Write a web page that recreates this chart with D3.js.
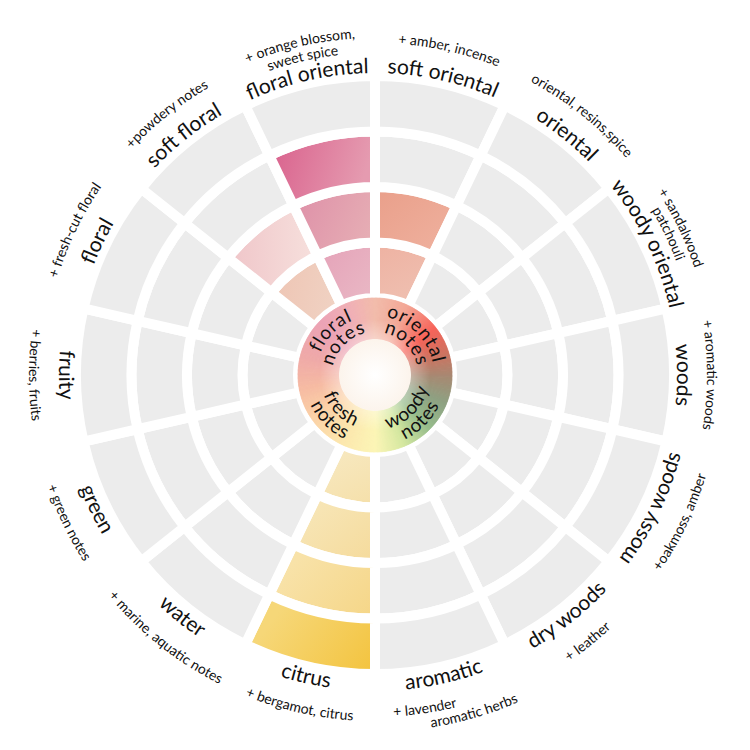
<!DOCTYPE html>
<html>
<head>
<meta charset="utf-8">
<script src="https://cdn.jsdelivr.net/npm/d3@7"></script>
<style>
  body { margin: 0; background: #fff; }
  text { font-family: Lato, "Open Sans", sans-serif; fill: #111; }
</style>
</head>
<body>
<div id="wheel"></div>
<script>
// fragrance families, clockwise from 12 o'clock
var categories = ["soft oriental", "oriental", "woody oriental", "woods", "mossy woods", "dry woods",
  "aromatic", "citrus", "water", "green", "fruity", "floral", "soft floral", "floral oriental"];

var subLabels = [["+ amber, incense"], ["oriental, resins,spice"], ["+ sandalwood", "patchouli"],
  ["+ aromatic woods"], ["+oakmoss, amber"], ["+ leather"], ["+ lavender", "aromatic herbs"],
  ["+ bergamot, citrus"], ["+ marine, aquatic notes"], ["+ green notes"], ["+ berries, fruits"],
  ["+ fresh-cut floral"], ["+powdery notes"], ["+ orange blossom,", "sweet spice"]];

// how many rings are filled for each family
var strength = [2, 0, 0, 0, 0, 0, 0, 4, 0, 0, 0, 0, 2, 3];

// inner "notes" ring
var noteFamilies = ["floral", "oriental", "woody", "fresh"];
var noteAngles = [315, 45, 135, 225];
var noteWord = "notes";

var ringCount = 4;

// colours of the filled cells, [outer, inner] per ring
var cellColors = {
  "soft oriental": [["#eeb1a1", "#efbfb0"], ["#e99e89", "#eeae9b"]],
  "citrus": [["#f5dfa8", "#f7e8bf"], ["#f5da9a", "#f7e5b5"], ["#f5d585", "#f8e2a8"], ["#f3c23a", "#f6d778"]],
  "soft floral": [["#eec5b4", "#f0d2c3"], ["#efc4c8", "#f6dedb"]],
  "floral oriental": [["#e5a3b9", "#e9b7c4"], ["#de90a8", "#e6adb4"], ["#d9608c", "#e59bb0"]]
};

var noteStops = [0, 25, 52, 72, 92, 112, 135, 158, 180, 205, 235, 260, 285, 315, 340, 360];
var noteColors = ["#f2bcab", "#f3a796", "#f7645a", "#cf7260", "#a68a73", "#8ea182", "#97bd8c", "#d5e8a0",
  "#fcf5b6", "#fce8ae", "#fbd2a7", "#f6bba3", "#efa9a8", "#eca3b6", "#f0b0b6", "#f2bcab"];

// small nudges along the arc for some second-line labels
var lineShift = {"+ lavender": -26, "aromatic herbs": 22};

var width = 750, height = 750;
var ringR = d3.scaleLinear().domain([0, ringCount]).range([77, 299]);
var coreInner = 36, coreOuter = 77;

var root = d3.select("#wheel")
  .append("svg")
  .attr("width", width)
  .attr("height", height);
var defs = root.append("defs");
var svg = root.append("g")
  .attr("transform", "translate(" + width / 2 + "," + height / 2 + ")");

var seg = d3.scaleBand().domain(categories).range([0, 2 * Math.PI]);
var toDeg = 180 / Math.PI;

function pt(r, a) { return [r * Math.sin(a), -r * Math.cos(a)]; }

// grid of cells
var cells = [];
categories.forEach(function (c, i) {
  d3.range(ringCount).forEach(function (j) {
    cells.push({cat: c, idx: i, ring: j, filled: j < strength[i]});
  });
});

var cellArc = d3.arc()
  .innerRadius(function (d) { return ringR(d.ring); })
  .outerRadius(function (d) { return ringR(d.ring + 1); })
  .startAngle(function (d) { return seg(d.cat); })
  .endAngle(function (d) { return seg(d.cat) + seg.bandwidth(); });

cells.forEach(function (d, k) {
  if (!d.filled) return;
  var mid = seg(d.cat) + seg.bandwidth() / 2;
  var cols = cellColors[d.cat][d.ring];
  var p1 = pt(ringR(d.ring + 1), mid - 0.25), p2 = pt(ringR(d.ring), mid + 0.15);
  var g = defs.append("linearGradient")
    .attr("id", "cell" + k)
    .attr("gradientUnits", "userSpaceOnUse")
    .attr("x1", p1[0]).attr("y1", p1[1])
    .attr("x2", p2[0]).attr("y2", p2[1]);
  g.append("stop").attr("offset", "0%").attr("stop-color", cols[0]);
  g.append("stop").attr("offset", "100%").attr("stop-color", cols[1]);
  d.grad = "url(#cell" + k + ")";
});

svg.append("g")
  .selectAll("path")
  .data(cells)
  .enter()
  .append("path")
    .attr("d", cellArc)
    .attr("fill", function (d) { return d.filled ? d.grad : "#ececec"; })
    .attr("stroke", "#fff")
    .attr("stroke-width", 10);

// inner notes ring, coloured by angle
var noteScale = d3.scaleLinear().domain(noteStops).range(noteColors).interpolate(d3.interpolateRgb);
var coreArc = d3.arc().innerRadius(coreInner).outerRadius(coreOuter);
svg.append("g")
  .selectAll("path")
  .data(d3.range(0, 360, 1))
  .enter()
  .append("path")
    .attr("d", function (a) { return coreArc({startAngle: a / toDeg, endAngle: (a + 1.5) / toDeg}); })
    .attr("fill", function (a) { return noteScale(a + 0.5); })
    .attr("stroke", function (a) { return noteScale(a + 0.5); })
    .attr("stroke-width", 0.6);

var glow = defs.append("radialGradient").attr("id", "glow").attr("r", "50%");
glow.append("stop").attr("offset", "0%").attr("stop-color", "#fff").attr("stop-opacity", 0.6);
glow.append("stop").attr("offset", (coreInner / coreOuter * 100) + "%").attr("stop-color", "#fff").attr("stop-opacity", 0.35);
glow.append("stop").attr("offset", "72%").attr("stop-color", "#fff").attr("stop-opacity", 0);
glow.append("stop").attr("offset", "100%").attr("stop-color", "#fff").attr("stop-opacity", 0);
svg.append("circle").attr("r", coreOuter).attr("fill", "url(#glow)");

var hole = defs.append("radialGradient").attr("id", "hole");
hole.append("stop").attr("offset", "0%").attr("stop-color", "#ffffff");
hole.append("stop").attr("offset", "100%").attr("stop-color", "#fcf4ec");
svg.append("circle").attr("r", coreInner).attr("fill", "url(#hole)");

// curved labels
var pathId = 0;
function curvedText(txt, r, a, flip, size, spacing) {
  var span = Math.PI / 2.2;
  var p0 = pt(r, a - span), p1 = pt(r, a + span);
  var d = flip
    ? "M" + p1 + "A" + r + "," + r + " 0 0 0 " + p0
    : "M" + p0 + "A" + r + "," + r + " 0 0 1 " + p1;
  var id = "lp" + (pathId++);
  defs.append("path").attr("id", id).attr("d", d);
  svg.append("text")
    .attr("dx", lineShift[txt] || 0)
    .style("font-size", size + "px")
    .style("letter-spacing", (spacing || 0) + "px")
    .append("textPath")
      .attr("href", "#" + id)
      .attr("startOffset", "50%")
      .attr("text-anchor", "middle")
      .text(txt);
}

categories.forEach(function (c, i) {
  var mid = seg(c) + seg.bandwidth() / 2;
  var deg = mid * toDeg;
  var flip = deg > 91 && deg < 271;
  curvedText(c, flip ? 316 : 302, mid, flip, 21);
  var subs = subLabels[i];
  var radii;
  if (subs.length === 1) radii = [flip ? 346 : 332];
  else radii = flip ? [342, 357] : [337, 322];
  subs.forEach(function (s, k) { curvedText(s, radii[k], mid, flip, 14); });
});

noteFamilies.forEach(function (f, i) {
  var a = noteAngles[i] / toDeg;
  var flip = noteAngles[i] > 90 && noteAngles[i] < 270;
  curvedText(f, flip ? 55 : 59, a, flip, 19, 0.8);
  curvedText(noteWord, flip ? 71 : 43, a, flip, 19, 0.8);
});
</script>
</body>
</html>
